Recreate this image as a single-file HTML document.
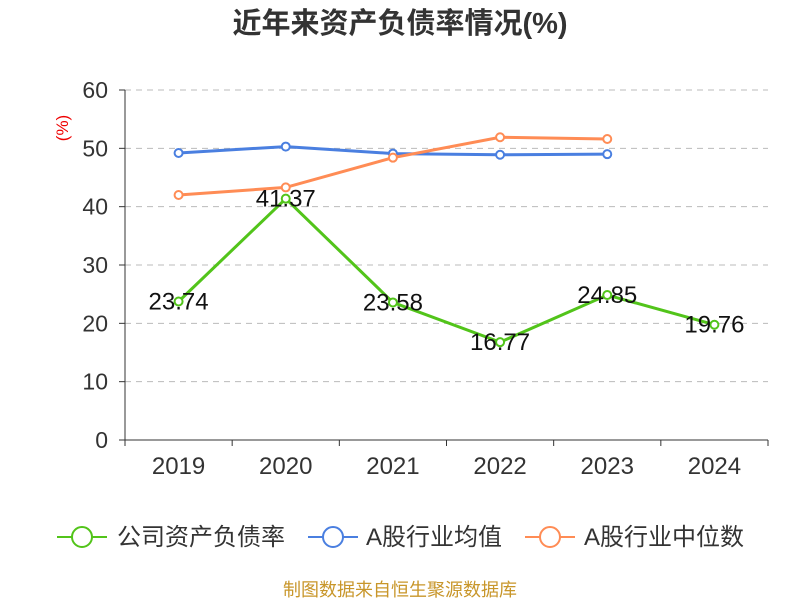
<!DOCTYPE html>
<html><head><meta charset="utf-8"><style>
body{margin:0;background:#fff;font-family:"Liberation Sans","Noto Sans CJK SC",sans-serif}
</style></head><body>
<svg width="800" height="600" xmlns="http://www.w3.org/2000/svg" style="font-family:'Liberation Sans','Noto Sans CJK SC',sans-serif">
<text x="400" y="33" text-anchor="middle" font-size="29" font-weight="bold" fill="#333">近年来资产负债率情况(%)</text>
<text transform="translate(68,128) rotate(-90)" text-anchor="middle" font-size="17" fill="#e00">(%)</text>
<g id="grid"></g><g id="axes"></g><g id="series"></g>
<g>
<g><line x1="57" y1="537" x2="107" y2="537" stroke="#52c41a" stroke-width="2"/><circle cx="82" cy="537" r="10" fill="#fff" stroke="#52c41a" stroke-width="2"/><text x="117" y="545" font-size="24" fill="#333">公司资产负债率</text></g>
<g><line x1="308" y1="537" x2="358" y2="537" stroke="#4a7fe0" stroke-width="2"/><circle cx="333" cy="537" r="10" fill="#fff" stroke="#4a7fe0" stroke-width="2"/><text x="366" y="545" font-size="24" fill="#333">A股行业均值</text></g>
<g><line x1="525" y1="537" x2="575" y2="537" stroke="#ff8c55" stroke-width="2"/><circle cx="550" cy="537" r="10" fill="#fff" stroke="#ff8c55" stroke-width="2"/><text x="584" y="545" font-size="24" fill="#333">A股行业中位数</text></g>
</g>
<text x="400" y="596" text-anchor="middle" font-size="18" fill="#c8962a">制图数据来自恒生聚源数据库</text>
</svg>
<script>
const categories=["2019","2020","2021","2022","2023","2024"];
const companyValues=[23.74,41.37,23.58,16.77,24.85,19.76];
const meanValues=[49.2,50.3,49.1,48.9,49.0];
const medianValues=[42.0,43.3,48.4,51.9,51.6];
const yTicks=[0,10,20,30,40,50,60];
const NS="http://www.w3.org/2000/svg";
const x0=125,x1=768,yb=440,yt=90,ymax=60;
const bw=(x1-x0)/categories.length;
const xs=i=>x0+bw*(i+0.5);
const ys=v=>yb-(v/ymax)*(yb-yt);
function mk(t,a,p){const e=document.createElementNS(NS,t);for(const k in a)e.setAttribute(k,a[k]);p.appendChild(e);return e;}
const grid=document.getElementById('grid'),axes=document.getElementById('axes'),ser=document.getElementById('series');
yTicks.forEach(v=>{
 if(v>0){const l=mk('line',{x1:x0,x2:x1,y1:ys(v),y2:ys(v),stroke:'#bbb','stroke-dasharray':'6,5'},grid);
 }
 const t=mk('text',{x:108,y:ys(v)+8,'text-anchor':'end','font-size':23,fill:'#333'},axes);t.textContent=v;
 
 mk('line',{x1:x0-6,x2:x0,y1:ys(v),y2:ys(v),stroke:'#333'},axes);
});
mk('line',{x1:x0,x2:x0,y1:yt,y2:yb,stroke:'#333'},axes);
mk('line',{x1:x0,x2:x1,y1:yb,y2:yb,stroke:'#333'},axes);
for(let i=0;i<=categories.length;i++)mk('line',{x1:x0+bw*i,x2:x0+bw*i,y1:yb,y2:yb+6,stroke:'#333'},axes);
categories.forEach((c,i)=>{const t=mk('text',{x:xs(i),y:474,'text-anchor':'middle','font-size':24,fill:'#333'},axes);t.textContent=c;
 });
function series(vals,color,name,labels){
 const g=mk('g',{},ser);
 mk('polyline',{points:vals.map((v,i)=>xs(i)+','+ys(v)).join(' '),fill:'none',stroke:color,'stroke-width':3},g);
 vals.forEach((v,i)=>{const c=mk('circle',{cx:xs(i),cy:ys(v),r:4,fill:'#fff',stroke:color,'stroke-width':2},g);
  
  if(labels){const t=mk('text',{x:xs(i),y:ys(v)+8,'text-anchor':'middle','font-size':24,fill:'#111'},g);t.textContent=v.toFixed(2);
   }});
}
series(meanValues,'#4a7fe0','industry-mean-line',false);
series(medianValues,'#ff8c55','industry-median-line',false);
series(companyValues,'#52c41a','company-line',true);
</script>
</body></html>
